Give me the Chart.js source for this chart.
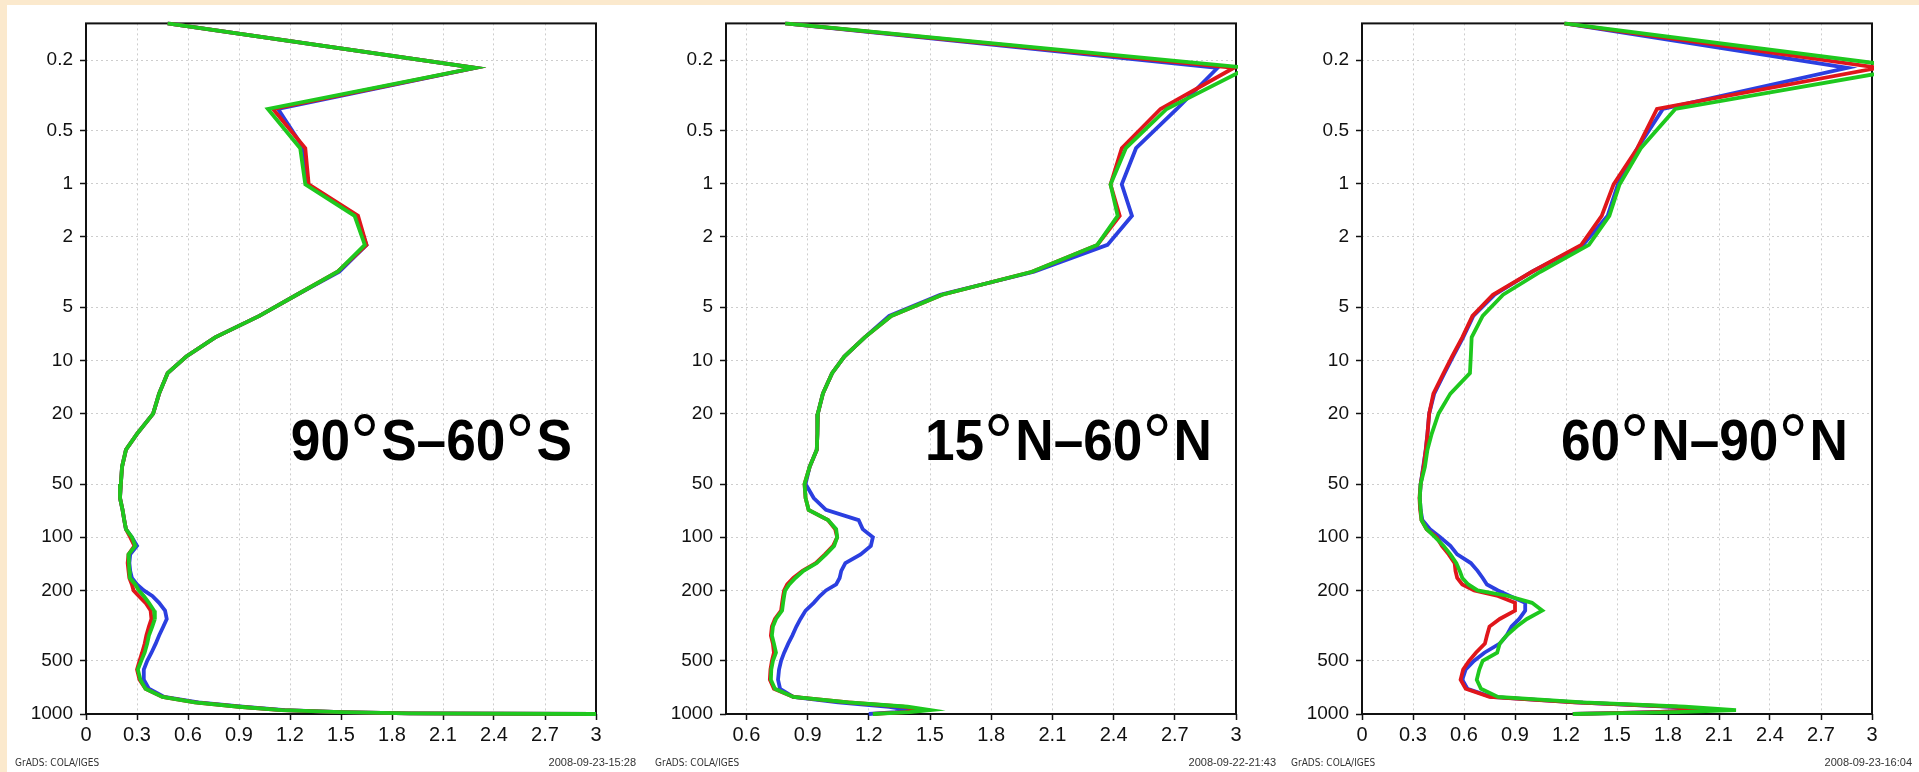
<!DOCTYPE html>
<html>
<head>
<meta charset="utf-8">
<script src="https://cdn.jsdelivr.net/npm/chart.js@4.4.1/dist/chart.umd.min.js"></script>
<style>
  html, body { margin: 0; padding: 0; }
  body { width: 1919px; height: 772px; background: #fbe9cd; position: relative; overflow: hidden; }
  #sheet { position: absolute; left: 7px; top: 5px; width: 1912px; height: 767px; background: #fff; }
  canvas { position: absolute; top: 5px; }
</style>
</head>
<body>
<div id="sheet"></div>
<canvas id="p1" width="637" height="767" style="left:6px"></canvas>
<canvas id="p2" width="637" height="767" style="left:646px"></canvas>
<canvas id="p3" width="637" height="767" style="left:1282px"></canvas>
<script>
/* ---- levels (hPa) shared by every profile ---- */
const pressure = [0.124, 0.221, 0.378, 0.63, 1.01, 1.52, 2.22, 3.15, 4.25, 5.6,
  7.4, 9.5, 11.8, 15.4, 20, 26, 32, 40, 50, 60,
  70, 80, 90, 100, 112, 125, 140, 155, 170, 185,
  200, 215, 235, 260, 290, 320, 360, 400, 450, 500,
  560, 640, 720, 800, 860, 910, 950, 975, 992, 1000];

const yTicks = [0.2, 0.5, 1, 2, 5, 10, 20, 50, 100, 200, 500, 1000];
const xTicksFull = [0, 0.3, 0.6, 0.9, 1.2, 1.5, 1.8, 2.1, 2.4, 2.7, 3];
const xTicksMid = [0.6, 0.9, 1.2, 1.5, 1.8, 2.1, 2.4, 2.7, 3];

const titles = ["90\u00b0S\u201360\u00b0S", "15\u00b0N\u201360\u00b0N", "60\u00b0N\u201390\u00b0N"];
const stamps = ["2008-09-23-15:28", "2008-09-22-21:43", "2008-09-23-16:04"];

/* ---- 90S-60S ---- */
const shBlue = [0.48, 2.29, 1.13, 1.28, 1.30, 1.59, 1.65, 1.49, 1.24, 1.02,
  0.76, 0.59, 0.48, 0.43, 0.395, 0.30, 0.235, 0.212, 0.205, 0.20,
  0.215, 0.225, 0.235, 0.27, 0.30, 0.26, 0.255, 0.26, 0.27, 0.30,
  0.34, 0.39, 0.43, 0.465, 0.475, 0.455, 0.43, 0.41, 0.385, 0.36,
  0.34, 0.34, 0.37, 0.46, 0.66, 0.92, 1.17, 1.5, 1.9, 3.0];
const shRed = [0.48, 2.29, 1.10, 1.29, 1.31, 1.60, 1.65, 1.48, 1.24, 1.02,
  0.76, 0.59, 0.48, 0.43, 0.395, 0.30, 0.235, 0.212, 0.205, 0.20,
  0.215, 0.225, 0.235, 0.26, 0.285, 0.25, 0.245, 0.25, 0.255, 0.27,
  0.28, 0.31, 0.35, 0.38, 0.385, 0.37, 0.355, 0.345, 0.33, 0.315,
  0.30, 0.315, 0.35, 0.45, 0.64, 0.9, 1.15, 1.5, 1.9, 3.0];
const shGreen = [0.48, 2.29, 1.07, 1.26, 1.29, 1.58, 1.64, 1.48, 1.24, 1.02,
  0.76, 0.59, 0.48, 0.43, 0.395, 0.30, 0.235, 0.212, 0.205, 0.20,
  0.215, 0.225, 0.235, 0.27, 0.29, 0.25, 0.252, 0.255, 0.258, 0.29,
  0.31, 0.34, 0.37, 0.40, 0.405, 0.39, 0.37, 0.36, 0.345, 0.325,
  0.305, 0.32, 0.35, 0.45, 0.64, 0.9, 1.15, 1.5, 1.9, 3.0];

/* ---- 15N-60N ---- */
const midBlue = [0.79, 2.91, 2.71, 2.51, 2.44, 2.49, 2.37, 2.01, 1.55, 1.30,
  1.18, 1.08, 1.02, 0.975, 0.95, 0.948, 0.945, 0.91, 0.89, 0.93,
  0.99, 1.15, 1.17, 1.22, 1.21, 1.16, 1.085, 1.065, 1.057, 1.04,
  0.99, 0.96, 0.93, 0.89, 0.865, 0.845, 0.825, 0.805, 0.785, 0.77,
  0.76, 0.755, 0.765, 0.83, 1.05, 1.30, 1.40, 1.33, 1.24, 1.20];
const midRed = [0.79, 2.99, 2.63, 2.44, 2.385, 2.43, 2.32, 2.0, 1.56, 1.31,
  1.18, 1.08, 1.02, 0.975, 0.95, 0.948, 0.945, 0.91, 0.885, 0.89,
  0.905, 1.0, 1.035, 1.045, 1.025, 0.985, 0.94, 0.875, 0.83, 0.80,
  0.785, 0.78, 0.775, 0.77, 0.74, 0.725, 0.72, 0.73, 0.735, 0.725,
  0.718, 0.715, 0.735, 0.83, 1.1, 1.37, 1.46, 1.38, 1.27, 1.22];
const midGreen = [0.79, 3.06, 2.66, 2.46, 2.385, 2.42, 2.32, 2.0, 1.56, 1.31,
  1.18, 1.08, 1.02, 0.975, 0.95, 0.948, 0.945, 0.91, 0.885, 0.89,
  0.905, 1.0, 1.04, 1.045, 1.03, 0.99, 0.945, 0.88, 0.84, 0.81,
  0.79, 0.785, 0.78, 0.775, 0.745, 0.73, 0.725, 0.735, 0.745, 0.73,
  0.722, 0.72, 0.74, 0.83, 1.1, 1.39, 1.50, 1.40, 1.28, 1.22];

/* ---- 60N-90N ---- */
const nhBlue = [1.19, 2.855, 1.77, 1.62, 1.505, 1.445, 1.30, 1.0, 0.78, 0.655,
  0.595, 0.535, 0.485, 0.425, 0.395, 0.385, 0.375, 0.36, 0.345, 0.34,
  0.345, 0.355, 0.40, 0.46, 0.52, 0.56, 0.64, 0.68, 0.71, 0.735,
  0.80, 0.87, 0.96, 0.96, 0.925, 0.88, 0.85, 0.81, 0.72, 0.66,
  0.61, 0.59, 0.62, 0.76, 1.26, 1.82, 2.00, 1.72, 1.40, 1.24];
const nhRed = [1.19, 3.04, 1.735, 1.62, 1.48, 1.41, 1.29, 1.0, 0.77, 0.65,
  0.59, 0.53, 0.48, 0.42, 0.395, 0.385, 0.375, 0.362, 0.345, 0.338,
  0.342, 0.35, 0.38, 0.44, 0.47, 0.51, 0.545, 0.55, 0.56, 0.59,
  0.66, 0.80, 0.90, 0.90, 0.81, 0.75, 0.735, 0.723, 0.67, 0.63,
  0.595, 0.58, 0.61, 0.75, 1.25, 1.85, 2.00, 1.72, 1.40, 1.24];
const nhGreen = [1.19, 3.23, 1.843, 1.64, 1.515, 1.455, 1.335, 1.05, 0.83, 0.71,
  0.645, 0.64, 0.635, 0.52, 0.45, 0.41, 0.385, 0.37, 0.345, 0.34,
  0.345, 0.35, 0.38, 0.43, 0.48, 0.52, 0.555, 0.575, 0.59, 0.625,
  0.68, 0.86, 1.00, 1.06, 0.97, 0.91, 0.85, 0.81, 0.795, 0.71,
  0.69, 0.675, 0.70, 0.80, 1.3, 1.9, 2.20, 1.85, 1.45, 1.24];

const BLUE = "#2b3fe0", RED = "#e0161b", GREEN = "#1ec81e";
const FAMILY = '"Liberation Sans", Arial, sans-serif';

// tick labels: set globally as well, per-scale font alone did not take
Chart.defaults.font.family = FAMILY;
Chart.defaults.font.size = 19;
Chart.defaults.color = "#111";

// big region label: bold text, thin raised degree ring, slightly squeezed
function drawTitle(ctx, text, right, baseline) {
    const bold = "bold 58px " + FAMILY;
    const ring = "80px " + FAMILY;
    const parts = text.split("\u00b0");
    let w = 0;
    parts.forEach((p, i) => {
        ctx.font = bold; w += ctx.measureText(p).width;
        if (i < parts.length - 1) { ctx.font = ring; w += ctx.measureText("\u00b0").width + 2; }
    });
    const sx = 0.917;
    ctx.save();
    ctx.translate(right - w * sx, baseline);
    ctx.scale(sx, 1);
    ctx.textAlign = "left";
    ctx.textBaseline = "alphabetic";
    let x = 0;
    parts.forEach((p, i) => {
        ctx.font = bold; ctx.fillText(p, x, 0); x += ctx.measureText(p).width;
        if (i < parts.length - 1) {
            ctx.font = ring; ctx.fillText("\u00b0", x, 10); x += ctx.measureText("\u00b0").width + 2;
        }
    });
    ctx.restore();
}

/* frame, region label, GrADS footer */
const panelDecor = {
    id: "panelDecor",
    beforeDatasetsDraw(chart) {
        const { ctx, chartArea: a } = chart;
        ctx.save();
        ctx.strokeStyle = "#111";
        ctx.lineWidth = 2;
        ctx.strokeRect(a.left, a.top, a.right - a.left, a.bottom - a.top);
        ctx.restore();
    },
    afterDatasetsDraw(chart, args, opts) {
        const { ctx, chartArea: a } = chart;
        ctx.save();
        ctx.fillStyle = "#000";
        drawTitle(ctx, opts.title, a.right - 24, 455);

        ctx.fillStyle = "#333";
        ctx.textBaseline = "alphabetic";
        ctx.font = '10px "Liberation Sans Narrow", "DejaVu Sans Condensed", sans-serif';
        ctx.textAlign = "left";
        ctx.fillText("GrADS: COLA/IGES", 9, 761);
        ctx.font = '11px "Liberation Sans", sans-serif';
        ctx.textAlign = "right";
        ctx.fillText(opts.stamp, 630, 761);
        ctx.restore();
    }
};

function profile(vals, color) {
    return {
        data: pressure.map((p, i) => ({ x: vals[i], y: p })),
        borderColor: color,
        borderWidth: 3.8,
        pointRadius: 0,
        tension: 0,
        fill: false,
        clip: 2
    };
}

function makePanel(id, xMin, xTicks, blue, red, green, title, stamp) {
    const gridOpts = { color: "#cdcdcd", lineWidth: 1, tickLength: 6, tickColor: "#111", tickWidth: 1.5, tickBorderDash: [] };
    new Chart(document.getElementById(id), {
        type: "line",
        // first dataset is painted last, so green sits on top
        data: { datasets: [profile(green, GREEN), profile(red, RED), profile(blue, BLUE)] },
        options: {
            responsive: false,
            animation: false,
            devicePixelRatio: 1,
            font: { family: FAMILY, size: 19 },
            layout: { padding: { top: 11, right: 47, bottom: 0, left: 0 } },
            plugins: {
                legend: { display: false },
                tooltip: { enabled: false },
                panelDecor: { title: title, stamp: stamp }
            },
            scales: {
                x: {
                    type: "linear",
                    min: xMin,
                    max: 3,
                    afterBuildTicks: ax => { ax.ticks = xTicks.map(v => ({ value: v })); },
                    afterFit: ax => { ax.height = 58; },
                    ticks: {
                        color: "#111", font: { family: FAMILY, size: 20 }, padding: 3, maxRotation: 0, autoSkip: false,
                        callback: v => String(+(+v).toFixed(1))
                    },
                    grid: gridOpts,
                    border: { display: false, dash: [2, 3] }
                },
                y: {
                    type: "logarithmic",
                    reverse: true,
                    min: 0.124,
                    max: 1000,
                    afterBuildTicks: ax => { ax.ticks = yTicks.map(v => ({ value: v })); },
                    afterFit: ax => { ax.width = 80; },
                    ticks: {
                        color: "#111", font: { family: FAMILY, size: 19 }, padding: 7, autoSkip: false,
                        callback: v => String(v)
                    },
                    grid: gridOpts,
                    border: { display: false, dash: [2, 3] }
                }
            }
        },
        plugins: [panelDecor]
    });
}

makePanel("p1", 0, xTicksFull, shBlue, shRed, shGreen, titles[0], stamps[0]);
makePanel("p2", 0.5, xTicksMid, midBlue, midRed, midGreen, titles[1], stamps[1]);
makePanel("p3", 0, xTicksFull, nhBlue, nhRed, nhGreen, titles[2], stamps[2]);
</script>
</body>
</html>
